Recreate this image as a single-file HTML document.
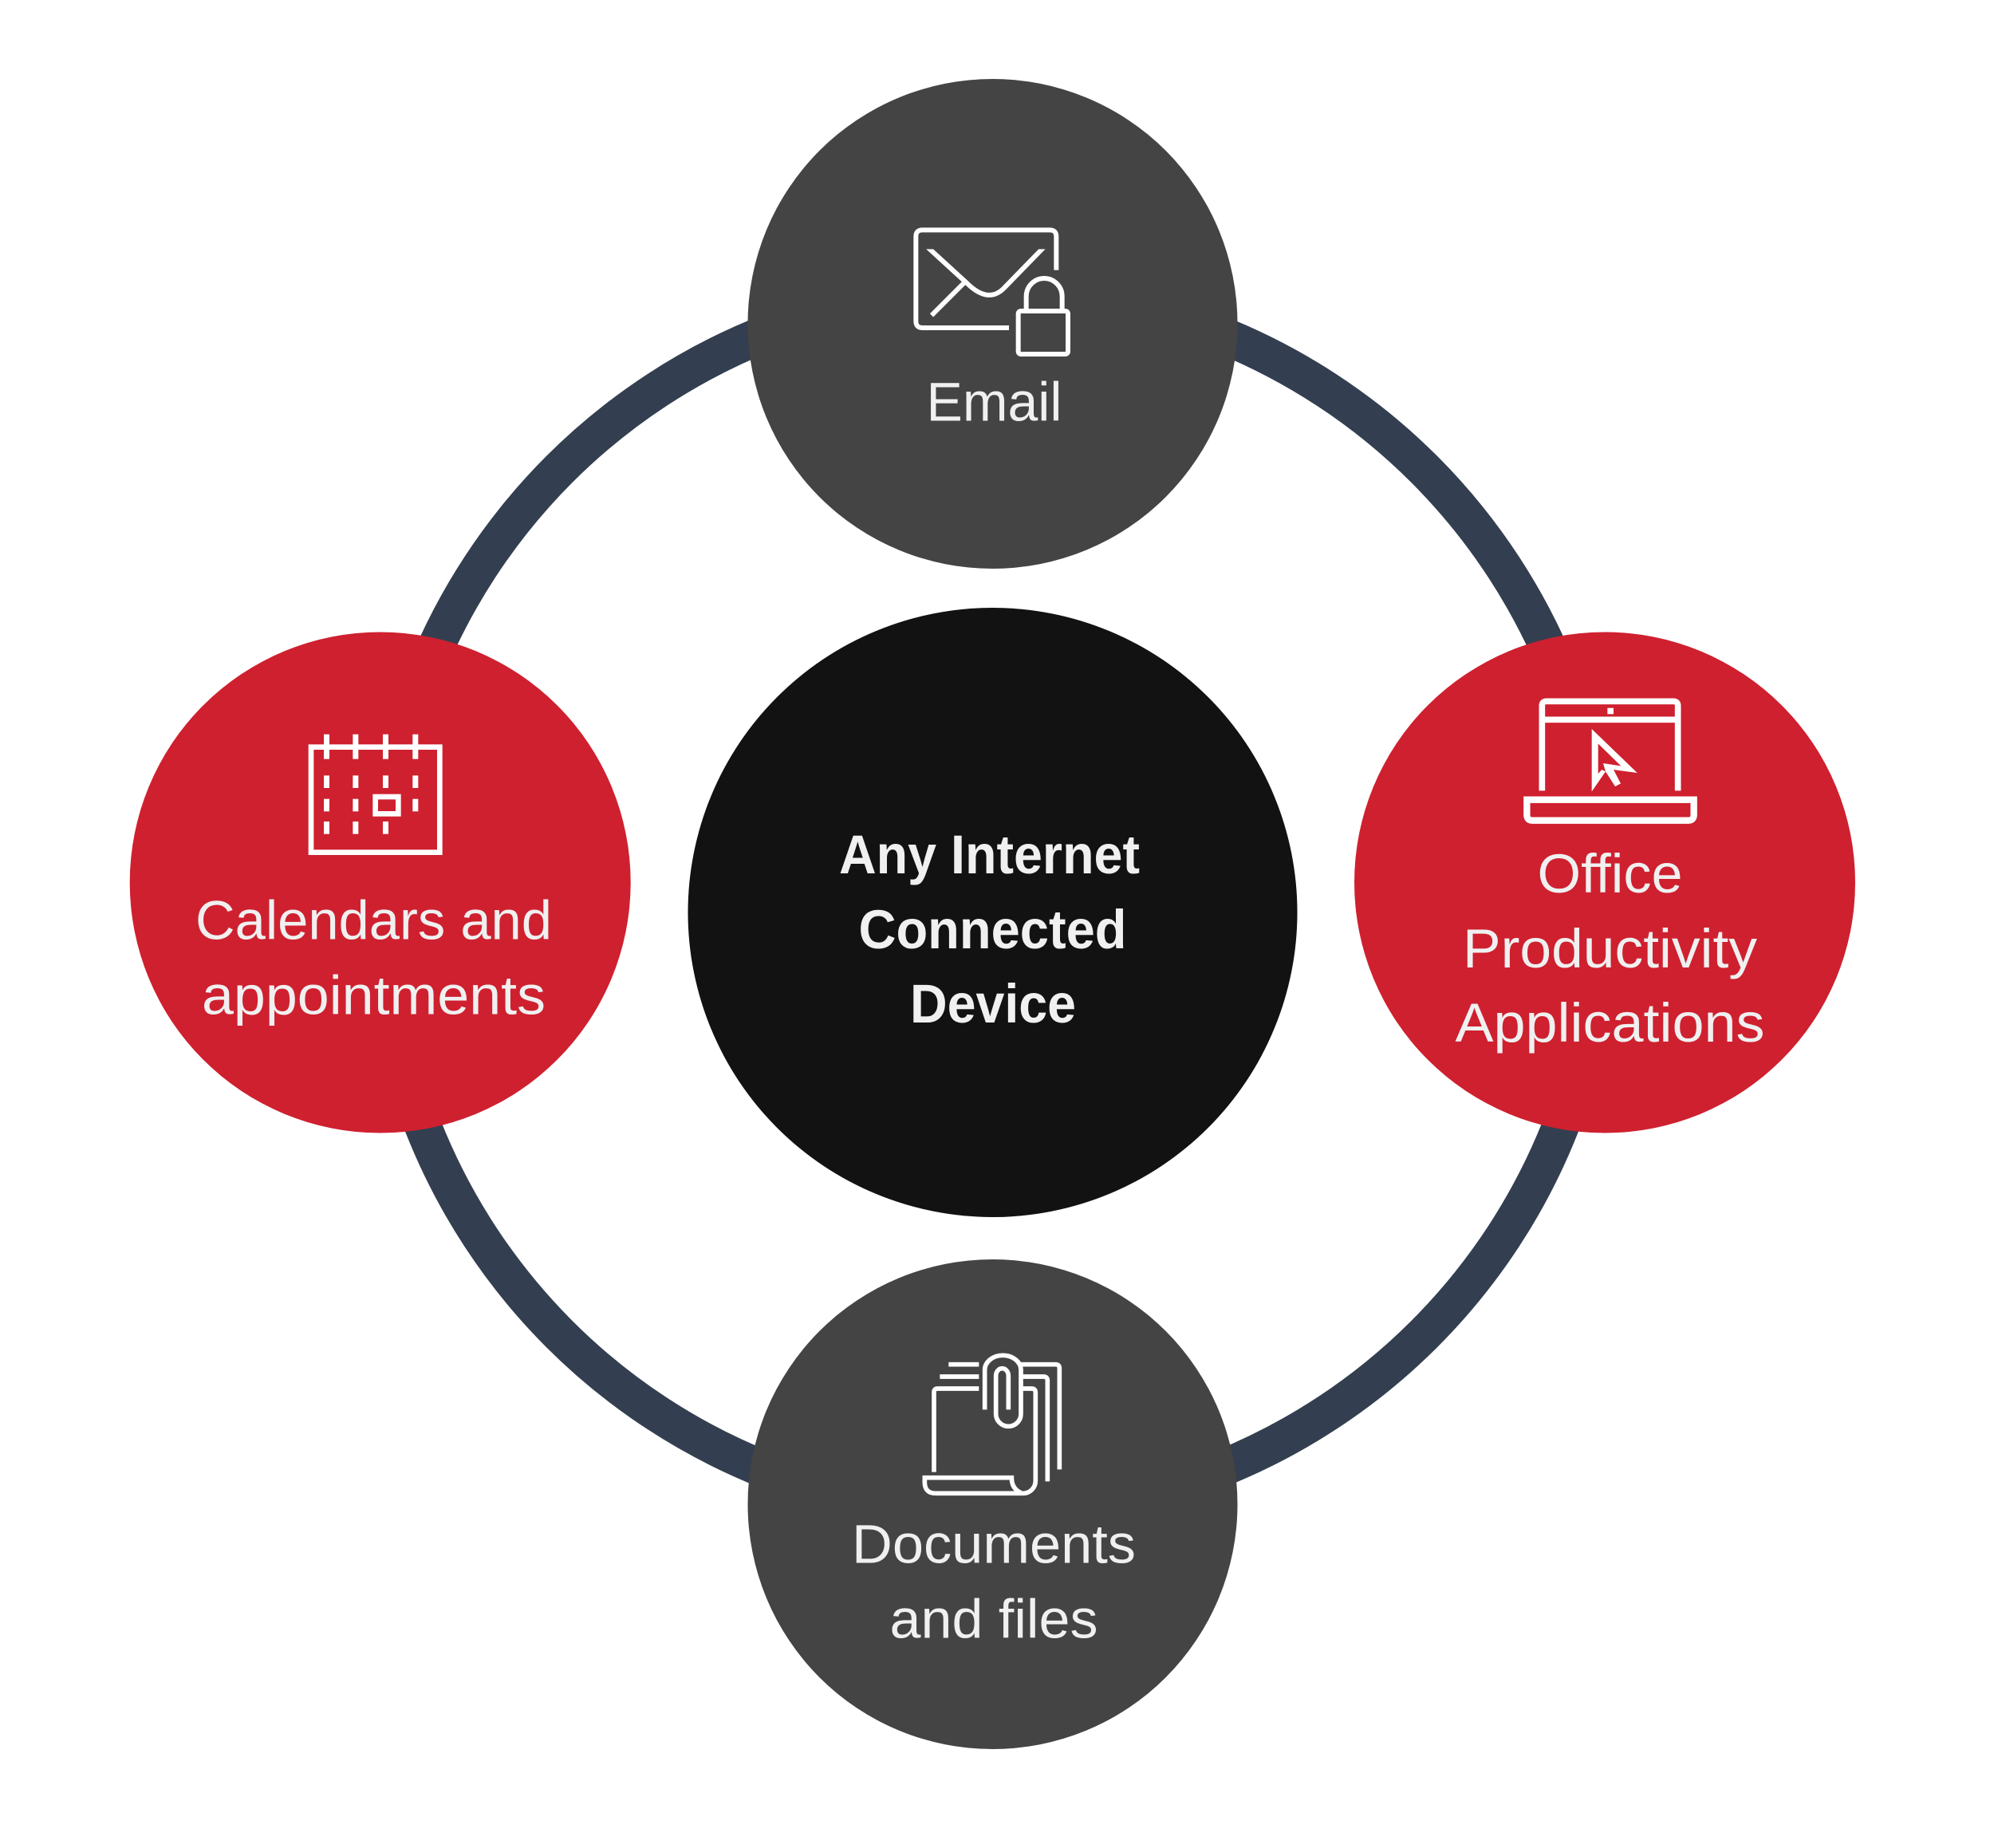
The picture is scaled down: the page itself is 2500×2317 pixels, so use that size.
<!DOCTYPE html>
<html>
<head>
<meta charset="utf-8">
<style>
html,body{margin:0;padding:0;background:#fff;}
svg{display:block;}
text{font-family:"Liberation Sans",sans-serif;font-size:69px;fill:#f0f0f0;text-anchor:middle;}
.b{font-weight:bold;}
</style>
</head>
<body>
<svg width="2500" height="2317" viewBox="0 0 2500 2317" xmlns="http://www.w3.org/2000/svg">
<defs><clipPath id="fl"><rect x="100" y="187" width="600" height="300"/></clipPath></defs>
<rect width="2500" height="2317" fill="#fff"/>
<circle cx="1243.5" cy="1130.5" r="766.7" fill="none" stroke="#333f50" stroke-width="46.5"/>
<circle cx="1244.5" cy="406" r="307" fill="#444444"/>
<circle cx="1244.5" cy="1886" r="307" fill="#444444"/>
<circle cx="476.7" cy="1106.5" r="314" fill="#cf202f"/>
<circle cx="2012" cy="1106.5" r="314" fill="#cf202f"/>
<circle cx="1244.5" cy="1144" r="382" fill="#121212"/>

<!-- Email icon -->
<g transform="translate(1100 250) scale(.33333)" fill="none" stroke="#fff" stroke-width="18">
<path d="M673,266 V140 Q673,115 648,115 H170 Q145,115 145,140 V458 Q145,483 170,483 H495"/>
<path clip-path="url(#fl)" d="M187,178 L340,318 Q420,395 480,330 L628,178"/>
<path d="M325,315 L204,436"/>
<rect x="530" y="420" width="187" height="162" rx="10"/>
<path d="M560,415 V365 A67.5,68 0 0 1 695,365 V415"/>
</g>

<!-- Laptop icon -->
<g transform="translate(1880 850) scale(.33333)" fill="none" stroke="#fff" stroke-width="23">
<path d="M160,424 V105 Q160,88 177,88 H654 Q671,88 671,105 V424"/>
<path d="M160,157 H671"/>
<path d="M103,458 H731 V515 Q731,536 710,536 H124 Q103,536 103,515 Z" stroke-width="25"/>
<rect x="406" y="113" width="23" height="23" fill="#fff" stroke="none"/>
<path fill="#fff" fill-rule="evenodd" stroke="none" d="M347,192 L518,357 L429,345 L456,397 L435,408 L399,352 L347,427 Z M371,247 L371,360 L385,345 L399,352 L390,321 L457,331 Z"/>
</g>

<!-- Documents icon -->
<g transform="translate(1130 1670) scale(.33333)" fill="none" stroke="#fff" stroke-width="17">
<path d="M123,527 V227 Q123,213 137,213 H292"/>
<path d="M145,168 H292"/>
<path d="M178,122 H292"/>
<path d="M450,122 H580 Q595,122 595,137 V517"/>
<path d="M455,168 H535 Q550,168 550,183 V562"/>
<path d="M455,213 H490 Q505,213 505,228 V560 A47,47 0 0 1 458,607 H130 Q88,607 88,565 V548 H415 Q415,590 450,605"/>
<path d="M314,292 V143 A68,55 0 0 1 450,143 V308 A47,47 0 0 1 356,308 V165 A23.5,28 0 0 1 403,165 V292"/>
</g>

<!-- Calendar icon -->
<g transform="translate(360 900) scale(.33333)" fill="#fff" stroke="none">
<rect x="90" y="110" width="484" height="396" fill="none" stroke="#fff" stroke-width="20"/>
<rect x="138" y="62" width="21" height="93"/>
<rect x="247" y="62" width="21" height="93"/>
<rect x="360" y="62" width="21" height="93"/>
<rect x="472" y="62" width="21" height="93"/>
<rect x="138" y="217" width="21" height="47"/>
<rect x="247" y="217" width="21" height="47"/>
<rect x="360" y="217" width="21" height="47"/>
<rect x="472" y="217" width="21" height="47"/>
<rect x="138" y="305" width="21" height="47"/>
<rect x="247" y="305" width="21" height="47"/>
<rect x="472" y="305" width="21" height="47"/>
<rect x="138" y="390" width="21" height="47"/>
<rect x="247" y="390" width="21" height="47"/>
<rect x="360" y="390" width="21" height="47"/>
<rect x="332" y="297" width="86" height="64" fill="none" stroke="#fff" stroke-width="20"/>
</g>

<text x="1246.5" y="527.5" textLength="170" lengthAdjust="spacingAndGlyphs">Email</text>
<text x="468.5" y="1177.5" textLength="447" lengthAdjust="spacingAndGlyphs">Calendars and</text>
<text x="468.5" y="1271.5" textLength="431" lengthAdjust="spacingAndGlyphs">appointments</text>
<text x="2018.5" y="1119" textLength="182" lengthAdjust="spacingAndGlyphs">Office</text>
<text x="2018.5" y="1213" textLength="369" lengthAdjust="spacingAndGlyphs">Productivity</text>
<text x="2018.5" y="1306" textLength="388" lengthAdjust="spacingAndGlyphs">Applications</text>
<text x="1246" y="1959.5" textLength="356" lengthAdjust="spacingAndGlyphs">Documents</text>
<text x="1246" y="2053.5" textLength="261" lengthAdjust="spacingAndGlyphs">and files</text>
<text class="b" x="1240.5" y="1095" textLength="377" lengthAdjust="spacingAndGlyphs">Any Internet</text>
<text class="b" x="1244.5" y="1189" textLength="336" lengthAdjust="spacingAndGlyphs">Connected</text>
<text class="b" x="1245" y="1282" textLength="208" lengthAdjust="spacingAndGlyphs">Device</text>
</svg>
</body>
</html>
